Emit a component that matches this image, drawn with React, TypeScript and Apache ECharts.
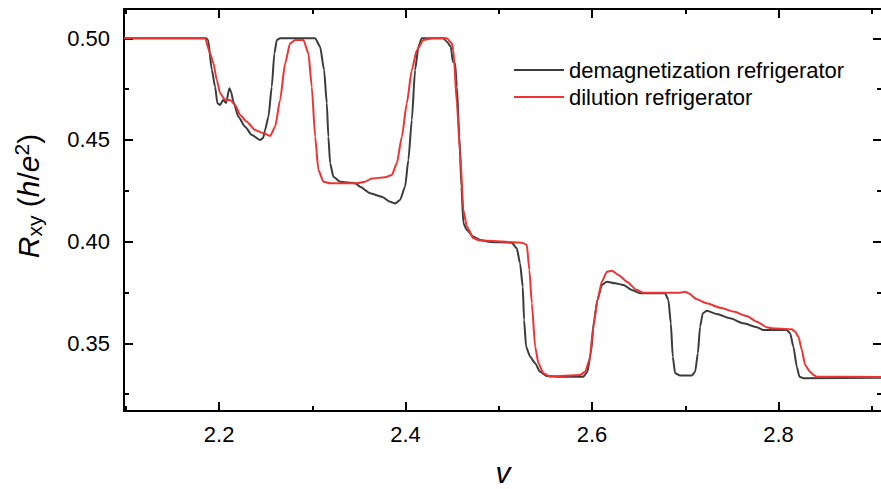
import React, { useEffect, useRef } from "react";
import * as echarts from "echarts";

const FONT = "'Liberation Sans', Arial, Helvetica, sans-serif";

// Filling factor range and tick values
const X_MIN = 2.098;
const X_MAX = 2.911;
const Y_MIN = 0.3167;
const Y_MAX = 0.5144;
const X_MAJOR = [2.2, 2.4, 2.6, 2.8];
const X_MINOR = [2.1, 2.3, 2.5, 2.7, 2.9];
const Y_MAJOR = [0.35, 0.4, 0.45, 0.5];
const Y_MINOR = [0.325, 0.375, 0.425, 0.475];

const SERIES_NAMES = ["demagnetization refrigerator", "dilution refrigerator"];

// Demagnetization refrigerator trace
const demagV = [
  2.098, 2.1861, 2.1882, 2.1922, 2.1957, 2.1982, 2.2011, 2.2043, 2.2075, 2.211,
  2.2129, 2.2153, 2.2207, 2.2279, 2.2351, 2.244, 2.2472, 2.2493, 2.2529, 2.2565,
  2.2593, 2.2619, 2.2654, 2.303, 2.3083, 2.3126, 2.3155, 2.3172, 2.3191, 2.3226,
  2.3298, 2.3459, 2.3512, 2.362, 2.3745, 2.3834, 2.3888, 2.3941, 2.3995, 2.403,
  2.4067, 2.4102, 2.4138, 2.4174, 2.4406, 2.4442, 2.4485, 2.4507, 2.4531, 2.455,
  2.4577, 2.4599, 2.462, 2.4657, 2.4728, 2.48, 2.4907, 2.5139, 2.5193, 2.5228,
  2.5257, 2.5271, 2.5293, 2.5336, 2.5389, 2.5443, 2.5515, 2.5622, 2.5907, 2.595,
  2.5987, 2.6022, 2.6058, 2.6105, 2.6159, 2.6248, 2.6337, 2.6427, 2.6516, 2.6623,
  2.6784, 2.6819, 2.6845, 2.6866, 2.6891, 2.6945, 2.707, 2.7106, 2.7135, 2.7159,
  2.7188, 2.7231, 2.7338, 2.7481, 2.7624, 2.7767, 2.7838, 2.8089, 2.8125, 2.816,
  2.8196, 2.8224, 2.8267, 2.911,
];
const demagR = [
  0.5, 0.5, 0.4992, 0.4844, 0.4762, 0.468, 0.4672, 0.4697, 0.4682, 0.4754,
  0.4736, 0.4688, 0.4614, 0.4565, 0.4524, 0.45, 0.451, 0.4549, 0.4614, 0.4762,
  0.4926, 0.4992, 0.5, 0.5, 0.4959, 0.4844, 0.468, 0.4516, 0.4385, 0.4319,
  0.4295, 0.4287, 0.427, 0.4238, 0.4221, 0.4196, 0.4188, 0.4205, 0.427, 0.4401,
  0.4598, 0.4844, 0.4959, 0.5, 0.5, 0.4983, 0.4959, 0.4885, 0.4877, 0.4762,
  0.4516, 0.427, 0.409, 0.4057, 0.4024, 0.4008, 0.3998, 0.3995, 0.3967, 0.3893,
  0.3778, 0.3615, 0.3483, 0.3434, 0.3402, 0.336, 0.3339, 0.3336, 0.3336, 0.336,
  0.3451, 0.3615, 0.3713, 0.3787, 0.3803, 0.3795, 0.3787, 0.3762, 0.3746, 0.3747,
  0.3746, 0.3713, 0.3598, 0.3434, 0.3353, 0.3341, 0.3341, 0.336, 0.3451, 0.3582,
  0.3648, 0.366, 0.3644, 0.3623, 0.3598, 0.3579, 0.3565, 0.3565, 0.3549, 0.3483,
  0.3385, 0.3336, 0.3328, 0.3331,
];

// Dilution refrigerator trace
const diluV = [
  2.098, 2.185, 2.1903, 2.1939, 2.1975, 2.2011, 2.2064, 2.2118, 2.2172, 2.2225,
  2.2297, 2.2386, 2.2475, 2.2547, 2.2601, 2.2654, 2.2708, 2.2762, 2.2815, 2.2904,
  2.2958, 2.2994, 2.303, 2.3065, 2.3119, 2.3191, 2.3477, 2.3566, 2.3638, 2.3781,
  2.3853, 2.3906, 2.396, 2.4013, 2.4067, 2.4121, 2.4192, 2.4299, 2.4442, 2.4496,
  2.4513, 2.455, 2.4585, 2.462, 2.4657, 2.4728, 2.48, 2.5247, 2.53, 2.5328,
  2.5354, 2.539, 2.5425, 2.5478, 2.555, 2.5872, 2.5926, 2.5972, 2.6015, 2.6058,
  2.6105, 2.6159, 2.6212, 2.6283, 2.6373, 2.648, 2.6551, 2.6945, 2.6998, 2.7034,
  2.7124, 2.7231, 2.7374, 2.7516, 2.766, 2.7767, 2.7875, 2.7928, 2.8143, 2.8178,
  2.8214, 2.825, 2.8285, 2.8339, 2.8375, 2.8411, 2.911,
];
const diluR = [
  0.5, 0.5, 0.4926, 0.4877, 0.4795, 0.473, 0.4697, 0.4697, 0.4672, 0.4623,
  0.459, 0.4549, 0.4533, 0.452, 0.4565, 0.4697, 0.4877, 0.4975, 0.4992, 0.4992,
  0.4926, 0.4762, 0.4516, 0.4352, 0.4295, 0.4287, 0.4287, 0.4295, 0.4311, 0.4316,
  0.4328, 0.4385, 0.4516, 0.468, 0.4844, 0.4942, 0.4992, 0.5, 0.5, 0.4975,
  0.4942, 0.468, 0.4434, 0.4156, 0.4074, 0.4016, 0.4005, 0.3995, 0.3984, 0.3861,
  0.3697, 0.3483, 0.3402, 0.3353, 0.3336, 0.3344, 0.336, 0.3418, 0.3582, 0.3713,
  0.3803, 0.3852, 0.3857, 0.3836, 0.3803, 0.3762, 0.3749, 0.3749, 0.3754, 0.3746,
  0.3716, 0.3697, 0.3675, 0.3656, 0.3634, 0.3606, 0.3579, 0.3574, 0.3569, 0.3557,
  0.3532, 0.3467, 0.3393, 0.336, 0.3344, 0.3336, 0.3334,
];

const pairs = (xs: number[], ys: number[]) => xs.map((x, i) => [x, ys[i]]);

const axisColor = "#000";

function xAxisDef(position: "top" | "bottom", values: number[], major: boolean, showLine: boolean, withLabels: boolean) {
  return {
    type: "value",
    position,
    min: X_MIN,
    max: X_MAX,
    axisLine: { show: showLine, onZero: false, lineStyle: { color: axisColor, width: 2 } },
    axisTick: {
      show: true,
      inside: true,
      length: major ? 9 : 5,
      customValues: values,
      lineStyle: { color: axisColor, width: 2 },
    },
    axisLabel: withLabels
      ? {
          show: true,
          customValues: values,
          formatter: (v: number) => v.toFixed(1),
          fontSize: 22,
          fontFamily: FONT,
          color: "#000",
          margin: 12,
        }
      : { show: false },
    splitLine: { show: false },
    ...(withLabels
      ? {
          name: "v",
          nameLocation: "middle",
          nameGap: 46,
          nameTextStyle: { fontStyle: "italic", fontSize: 30, fontFamily: FONT, color: "#000" },
        }
      : {}),
  };
}

function yAxisDef(position: "left" | "right", values: number[], major: boolean, showLine: boolean, withLabels: boolean) {
  return {
    type: "value",
    position,
    min: Y_MIN,
    max: Y_MAX,
    axisLine: { show: showLine, onZero: false, lineStyle: { color: axisColor, width: 2 } },
    axisTick: {
      show: true,
      inside: true,
      length: major ? 9 : 5,
      customValues: values,
      lineStyle: { color: axisColor, width: 2 },
    },
    axisLabel: withLabels
      ? {
          show: true,
          customValues: values,
          formatter: (v: number) => v.toFixed(2),
          fontSize: 22,
          fontFamily: FONT,
          color: "#000",
          margin: 14,
        }
      : { show: false },
    splitLine: { show: false },
  };
}

export default function App() {
  const ref = useRef<HTMLDivElement>(null);

  useEffect(() => {
    if (!ref.current) return;
    const chart = echarts.init(ref.current, null, { renderer: "svg" });
    chart.setOption({
      animation: false,
      backgroundColor: "#fff",
      grid: { left: 124, top: 9, width: 758, height: 402, outerBoundsMode: "none", containLabel: false },
      xAxis: [
        xAxisDef("bottom", X_MAJOR, true, true, true),
        xAxisDef("bottom", X_MINOR, false, false, false),
        xAxisDef("top", X_MAJOR, true, true, false),
        xAxisDef("top", X_MINOR, false, false, false),
      ],
      yAxis: [
        yAxisDef("left", Y_MAJOR, true, true, true),
        yAxisDef("left", Y_MINOR, false, false, false),
        yAxisDef("right", Y_MAJOR, true, true, false),
        yAxisDef("right", Y_MINOR, false, false, false),
      ],
      legend: {
        orient: "vertical",
        left: 514,
        top: 59,
        padding: 0,
        icon: "rect",
        itemWidth: 50,
        itemHeight: 2,
        itemGap: 5,
        data: SERIES_NAMES,
        textStyle: { fontSize: 22, fontFamily: FONT, color: "#000" },
      },
      graphic: [
        {
          type: "text",
          x: 28,
          y: 196,
          rotation: Math.PI / 2,
          style: {
            text: "{i|R}{sub|xy}{n| (}{i|h}{n|/}{i|e}{sup|2}{n|)}",
            align: "center",
            verticalAlign: "middle",
            fill: "#000",
            rich: {
              i: { fontStyle: "italic", fontSize: 30, fontFamily: FONT, lineHeight: 34, fill: "#000" },
              n: { fontSize: 30, fontFamily: FONT, lineHeight: 34, fill: "#000" },
              sub: { fontSize: 21, fontFamily: FONT, lineHeight: 16, verticalAlign: "bottom", fill: "#000" },
              sup: { fontSize: 21, fontFamily: FONT, lineHeight: 16, verticalAlign: "top", fill: "#000" },
            },
          },
        },
      ],
      series: [
        {
          name: SERIES_NAMES[0],
          type: "line",
          xAxisIndex: 0,
          yAxisIndex: 0,
          data: pairs(demagV, demagR),
          symbol: "none",
          showSymbol: false,
          smooth: 0.2,
          smoothMonotone: "x",
          lineStyle: { color: "#3b3b3b", width: 2 },
          itemStyle: { color: "#3b3b3b" },
        },
        {
          name: SERIES_NAMES[1],
          type: "line",
          xAxisIndex: 0,
          yAxisIndex: 0,
          data: pairs(diluV, diluR),
          symbol: "none",
          showSymbol: false,
          smooth: 0.2,
          smoothMonotone: "x",
          lineStyle: { color: "#ee3333", width: 2 },
          itemStyle: { color: "#ee3333" },
        },
      ],
    });
    return () => chart.dispose();
  }, []);

  return (
    <div
      ref={ref}
      style={{ position: "fixed", left: 0, top: 0, width: 881, height: 489, background: "#fff" }}
    />
  );
}
